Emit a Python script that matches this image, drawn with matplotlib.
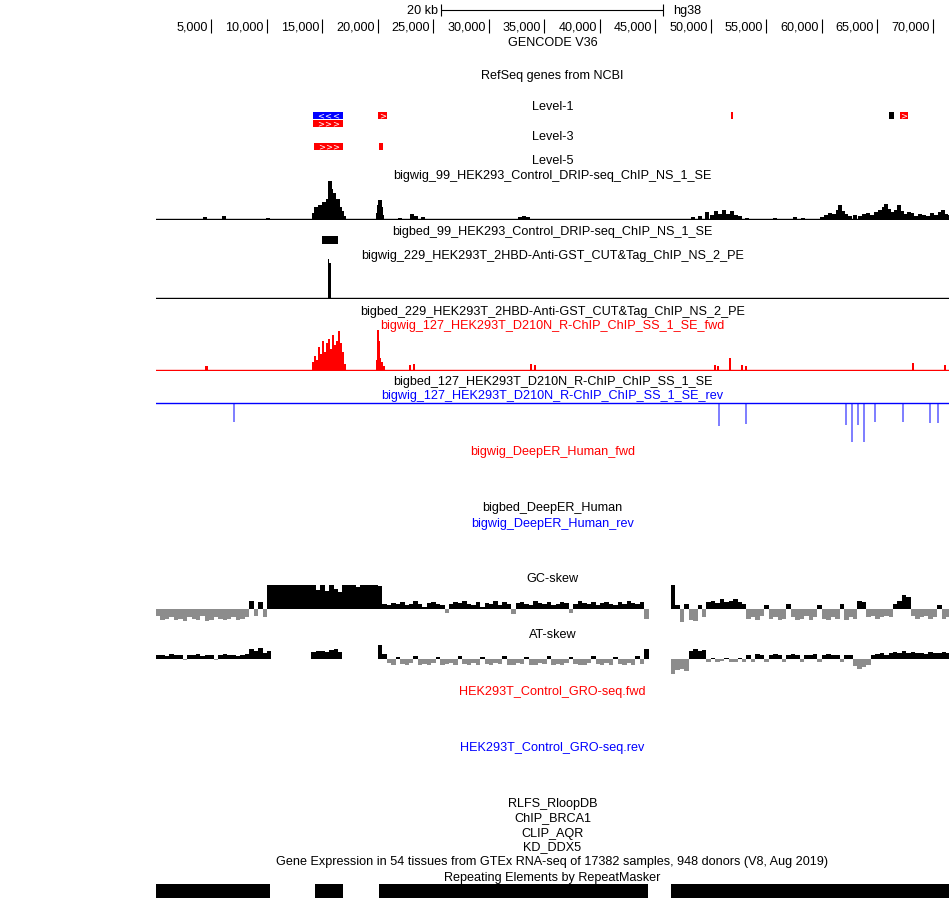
import numpy as np
import matplotlib
matplotlib.use('Agg')
import matplotlib.pyplot as plt

# ---- window / layout (pixels of the 950x900 browser image) ----
W, H = 950, 900
X0, X1 = 156, 949
KB_MAX = 71.45          # window width in kb
BIN = 0.4               # skew track bin size in kb

plt.rcParams['font.family'] = ['Liberation Sans', 'DejaVu Sans']
FS = 9.1

# ---- data ----
ruler_ticks = [5, 10, 15, 20, 25, 30, 35, 40, 45, 50, 55, 60, 65, 70]
scalebar_start = 25.7
scalebar_len = 20

# RefSeq genes: start kb, end kb, strand, row, colour
lvl1_start = [14.15, 14.15, 20.00, 51.77, 66.04, 67.03]
lvl1_end = [16.85, 16.85, 20.81, 51.95, 66.49, 67.75]
lvl1_strand = ['-', '+', '+', '+', '.', '+']
lvl1_row = [0, 1, 0, 0, 0, 0]
lvl1_color = ['#0000ff', '#ff0000', '#ff0000', '#ff0000', '#000000', '#ff0000']
lvl3_start = [14.24, 20.09]
lvl3_end = [16.85, 20.45]
lvl3_strand = ['+', '+']

# DRIP-seq (bigwig_99)
drip_kb = [4.41, 6.13, 10.09, 21.98, 23.07, 23.43, 24.06, 32.80, 33.16, 33.52,
           14.24, 14.42, 14.60, 14.78, 14.96, 15.14, 15.32, 15.50, 15.68, 15.77,
           15.86, 16.04, 16.22, 16.40, 16.58, 16.76, 16.94,
           20.00, 20.09, 20.18, 20.27, 20.36,
           48.38, 49.01, 49.64, 50.10, 50.46, 50.82, 51.18, 51.54, 51.90, 52.26,
           52.62, 53.25, 55.77, 57.57, 58.29,
           60.01, 60.37, 60.73, 61.09, 61.45, 61.63, 61.90, 62.17, 62.53, 62.98,
           63.43, 63.79, 64.15, 64.51, 64.87, 65.23, 65.59, 65.77, 66.04, 66.31,
           66.67, 66.94, 67.21, 67.48, 67.85, 68.12, 68.48, 68.84, 69.20, 69.56,
           69.92, 70.28, 70.64, 70.91, 71.18, 71.36]
drip_val = [2, 3, 1, 1, 5, 3, 2, 2, 3, 2,
            6, 12, 10, 14, 12, 17, 15, 20, 38, 30,
            22, 26, 18, 20, 12, 8, 3,
            6, 14, 19, 12, 4,
            2, 3, 7, 4, 8, 5, 9, 5, 8, 4,
            3, 1, 1, 2, 1,
            2, 4, 6, 5, 9, 14, 8, 5, 3, 4,
            3, 5, 6, 4, 7, 9, 12, 15, 10, 7,
            9, 14, 8, 5, 7, 6, 3, 5, 4, 3,
            6, 4, 7, 9, 5, 4]

# bigbed_99 peak
drip_bed_start = [14.96]
drip_bed_end = [16.40]

# CUT&Tag (bigwig_229)
cut_kb = [15.55, 15.68]
cut_val = [38, 34]

# R-ChIP forward (bigwig_127 fwd)
rchip_f_kb = [4.51, 4.60, 14.15, 14.33, 14.51, 14.69, 14.87, 15.05, 15.23, 15.41,
              15.59, 15.77, 15.95, 16.13, 16.31, 16.49, 16.67, 16.85, 17.03,
              19.91, 20.00, 20.09, 20.18, 20.36, 20.54,
              22.89, 23.25, 33.79, 34.15, 50.37, 50.64, 51.72, 52.80, 53.16,
              68.21, 71.09]
rchip_f_val = [4, 4, 8, 14, 10, 22, 16, 28, 18, 26,
               30, 20, 34, 24, 28, 38, 26, 18, 6,
               10, 39, 28, 12, 8, 4,
               5, 6, 6, 5, 5, 4, 12, 5, 4,
               7, 5]

# R-ChIP reverse (bigwig_127 rev)
rchip_r_kb = [7.03, 50.73, 53.16, 62.17, 62.71, 63.25, 63.79, 64.78, 67.30, 69.74, 70.46]
rchip_r_val = [-19, -23, -21, -22, -39, -22, -39, -19, -19, -20, -20]

nan = np.nan
gc_skew = np.array(
    [-0.3, -0.45, -0.4, -0.35, -0.45, -0.4, -0.5, -0.35, -0.4, -0.45,
     -0.3, -0.5, -0.45, -0.35, -0.4, -0.45, -0.4, -0.35, -0.45, -0.4,
     -0.35,
     0.35, -0.3, 0.3, -0.35,
     1, 1, 1, 1, 1, 1, 1, 1, 1, 1,
     1, 0.8, 1, 0.75, 1, 0.85, 0.7, 1, 1, 1,
     0.9, 1, 1, 1, 1, 0.95,
     0.2, 0.15, 0.25, 0.2, 0.3, 0.15, 0.2, 0.35, 0.2, 0.1,
     0.25, 0.3, 0.2, 0.15, -0.15, 0.2, 0.3, 0.25, 0.35, 0.2,
     0.15, 0.3, 0.1, 0.25, 0.2, 0.35, 0.15, 0.3, 0.2, -0.2,
     0.25, 0.3, 0.2, 0.15, 0.35, 0.25, 0.2, 0.3, 0.15, 0.2,
     0.3, 0.25, -0.15, 0.2, 0.35, 0.25, 0.2, 0.3, 0.15, 0.25,
     0.3, 0.2, 0.15, 0.3, 0.2, 0.35, 0.25, 0.2, 0.3, -0.4,
     nan, nan, nan, nan, nan,
     1.0,
     0.15, -0.55, 0.2, -0.45, -0.5, 0.15, -0.35,
     0.3, 0.35, 0.25, 0.4, 0.3, 0.35, 0.4, 0.3, 0.2,
     -0.4, -0.35, -0.45, -0.3, 0.15, -0.4, -0.35, -0.45, -0.4, 0.2,
     -0.35, -0.45, -0.4, -0.3, -0.45, -0.35, 0.15, -0.4, -0.45, -0.35,
     -0.4, 0.2, -0.45, -0.35, -0.4,
     0.35, 0.3,
     -0.35, -0.3, -0.4, -0.35, -0.3, -0.35, 0.2,
     0.35, 0.6, 0.5, -0.3,
     -0.4, -0.35, -0.3, -0.4, -0.35, 0.15, -0.4, -0.35])

at_skew = np.array(
    [0.25, 0.3, 0.2, 0.35, 0.25, 0.3, -0.1, 0.3, 0.25, 0.35,
     0.2, 0.3, 0.25, -0.1, 0.3, 0.35, 0.25, 0.3, 0.2, 0.3,
     0.35, 0.7, 0.55, 0.8, 0.4, 0.6,
     nan, nan, nan, nan, nan, nan, nan, nan, nan,
     0.5, 0.55, 0.6, 0.5, 0.65, 0.7, 0.5,
     nan, nan, nan, nan, nan, nan, nan, nan,
     1.0, 0.35,
     -0.3, -0.4, 0.15, -0.35, -0.45, -0.3, 0.2, -0.4, -0.35, -0.45,
     -0.3, 0.15, -0.4, -0.35, -0.3, -0.45, 0.2, -0.35, -0.4, -0.3,
     -0.45, 0.15, -0.35, -0.4, -0.3, -0.35, 0.2, -0.45, -0.4, -0.3,
     -0.35, 0.15, -0.4, -0.45, -0.3, -0.35, 0.2, -0.4, -0.35, -0.45,
     -0.3, 0.15, -0.35, -0.4, -0.45, -0.3, 0.2, -0.35, -0.4, -0.3,
     -0.45, 0.15, -0.35, -0.4, -0.3, -0.4, 0.2, -0.35,
     0.7,
     nan, nan, nan, nan, nan,
     -1.1, -0.8, -0.75, -0.85,
     0.6, 0.7, 0.55, 0.65,
     -0.2, 0.1, -0.25, -0.15, 0.1, -0.2, -0.25, 0.1, -0.2,
     0.3, -0.2, 0.35, 0.3, -0.25, 0.3, 0.35, 0.25, -0.2, 0.3,
     0.35, 0.3, -0.25, 0.3, 0.25, 0.35, -0.2, 0.3, 0.35, 0.3,
     0.25, -0.2, 0.3, 0.25,
     -0.5, -0.7, -0.6, -0.45,
     0.3, 0.35, 0.4, 0.3, 0.45, 0.5, 0.4, 0.55, 0.45, 0.5,
     0.4, 0.45, 0.35, 0.5, 0.4, 0.45, 0.5, 0.4])

repeat_start = [0, 14.33, 20.09, 46.40]
repeat_end = [10.27, 16.85, 44.33, 71.45]

track_labels = [
    ('GENCODE V36', 42, 'black'),
    ('RefSeq genes from NCBI', 74, 'black'),
    ('Level-1', 105, 'black'),
    ('Level-3', 136, 'black'),
    ('Level-5', 159, 'black'),
    ('bigwig_99_HEK293_Control_DRIP-seq_ChIP_NS_1_SE', 174, 'black'),
    ('bigbed_99_HEK293_Control_DRIP-seq_ChIP_NS_1_SE', 230, 'black'),
    ('bigwig_229_HEK293T_2HBD-Anti-GST_CUT&Tag_ChIP_NS_2_PE', 254, 'black'),
    ('bigbed_229_HEK293T_2HBD-Anti-GST_CUT&Tag_ChIP_NS_2_PE', 310, 'black'),
    ('bigwig_127_HEK293T_D210N_R-ChIP_ChIP_SS_1_SE_fwd', 324, '#ff0000'),
    ('bigbed_127_HEK293T_D210N_R-ChIP_ChIP_SS_1_SE', 381, 'black'),
    ('bigwig_127_HEK293T_D210N_R-ChIP_ChIP_SS_1_SE_rev', 395, '#0000ff'),
    ('bigwig_DeepER_Human_fwd', 451, '#ff0000'),
    ('bigbed_DeepER_Human', 507, 'black'),
    ('bigwig_DeepER_Human_rev', 522, '#0000ff'),
    ('GC-skew', 578, 'black'),
    ('AT-skew', 634, 'black'),
    ('HEK293T_Control_GRO-seq.fwd', 690, '#ff0000'),
    ('HEK293T_Control_GRO-seq.rev', 746, '#0000ff'),
    ('RLFS_RloopDB', 802, 'black'),
    ('ChIP_BRCA1', 817, 'black'),
    ('CLIP_AQR', 832, 'black'),
    ('KD_DDX5', 846, 'black'),
    ('Gene Expression in 54 tissues from GTEx RNA-seq of 17382 samples, 948 donors (V8, Aug 2019)', 861, 'black'),
    ('Repeating Elements by RepeatMasker', 877, 'black'),
]

# ---- drawing ----
fig = plt.figure(figsize=(W / 100, H / 100), dpi=100)


def track_ax(top, bottom, ylim):
    ax = fig.add_axes([X0 / W, 1 - bottom / H, (X1 - X0) / W, (bottom - top) / H])
    ax.set_xlim(0, KB_MAX)
    ax.set_ylim(*ylim)
    ax.axis('off')
    return ax


# labels
lab = fig.add_axes([0, 0, 1, 1])
lab.set_xlim(0, W)
lab.set_ylim(H, 0)
lab.axis('off')
for text, y, col in track_labels:
    lab.text((X0 + X1) / 2, y + 1.5, text, color=col, fontsize=FS, ha='center', va='center')

# ruler + scale bar (y in pixels, inverted)
ax = track_ax(0, 40, (40, 0))
ax.hlines(10, scalebar_start, scalebar_start + scalebar_len, color='black', lw=0.8)
ax.vlines([scalebar_start, scalebar_start + scalebar_len], 4, 16, color='black', lw=0.8)
ax.text(scalebar_start - 0.3, 11, '20 kb', fontsize=FS, ha='right', va='center')
ax.text(scalebar_start + scalebar_len + 0.9, 11, 'hg38', fontsize=FS, ha='left', va='center')
ax.vlines(ruler_ticks, 19, 33, color='black', lw=0.8)
for t in ruler_ticks:
    ax.text(t - 0.3, 27, f'{t * 1000:,}', fontsize=FS, ha='right', va='center')


def draw_genes(ax, starts, ends, strands, rows, colors, row_y, h):
    for s, e, st, r, c in zip(starts, ends, strands, rows, colors):
        y = row_y[r]
        ax.broken_barh([(s, e - s)], (y - h / 2, h), facecolors=c, lw=0)
        if st in '+-' and e - s > 0.5:
            n = max(1, int((e - s) / 0.75))
            xs = np.linspace(s, e, n + 2)[1:-1]
            for x in xs:
                ax.text(x, y, '>' if st == '+' else '<', color='white', fontsize=6,
                        ha='center', va='center', family='DejaVu Sans')


ax = track_ax(108, 130, (130, 108))
draw_genes(ax, lvl1_start, lvl1_end, lvl1_strand, lvl1_row, lvl1_color, [115.5, 123.5], 7)
ax = track_ax(140, 153, (153, 140))
draw_genes(ax, lvl3_start, lvl3_end, lvl3_strand, [0, 0], ['#ff0000'] * 2, [146.5], 7)

# DRIP bigwig
ax = track_ax(181, 220, (-1, 38))
ax.bar(drip_kb, drip_val, width=0.3, color='black', lw=0)
ax.axhline(0, color='black', lw=1)

# DRIP bigbed
ax = track_ax(234, 246, (246, 234))
ax.broken_barh([(s, e - s) for s, e in zip(drip_bed_start, drip_bed_end)], (236, 8),
               facecolors='black', lw=0)

# CUT&Tag bigwig
ax = track_ax(259, 299, (-1, 38))
ax.bar(cut_kb, cut_val, width=0.13, color='black', lw=0)
ax.axhline(0, color='black', lw=1)

# R-ChIP fwd
ax = track_ax(330, 371, (-1, 39))
ax.bar(rchip_f_kb, rchip_f_val, width=0.25, color='#ff0000', lw=0)
ax.axhline(0, color='#ff0000', lw=1)

# R-ChIP rev
ax = track_ax(402, 443, (-40, 1))
ax.bar(rchip_r_kb, rchip_r_val, width=0.18, color='#8080ff', lw=0)
ax.axhline(0, color='#0000ff', lw=1)

# skew tracks
bins = np.arange(len(gc_skew)) * BIN


def draw_skew(ax, vals):
    pos = np.where(vals > 0, vals, 0)
    neg = np.where(vals < 0, vals, 0)
    ax.bar(bins, pos, width=BIN, align='edge', color='black', lw=0)
    ax.bar(bins, neg, width=BIN, align='edge', color='#8c8c8c', lw=0)


ax = track_ax(585, 633, (-1, 1))
draw_skew(ax, gc_skew)
ax = track_ax(645, 675, (-1.15, 1.0))
draw_skew(ax, at_skew)

# RepeatMasker
ax = track_ax(882, 900, (900, 882))
ax.broken_barh([(s, e - s) for s, e in zip(repeat_start, repeat_end)], (884, 14),
               facecolors='black', lw=0)

fig.savefig('out.png', dpi=100, facecolor='white')
